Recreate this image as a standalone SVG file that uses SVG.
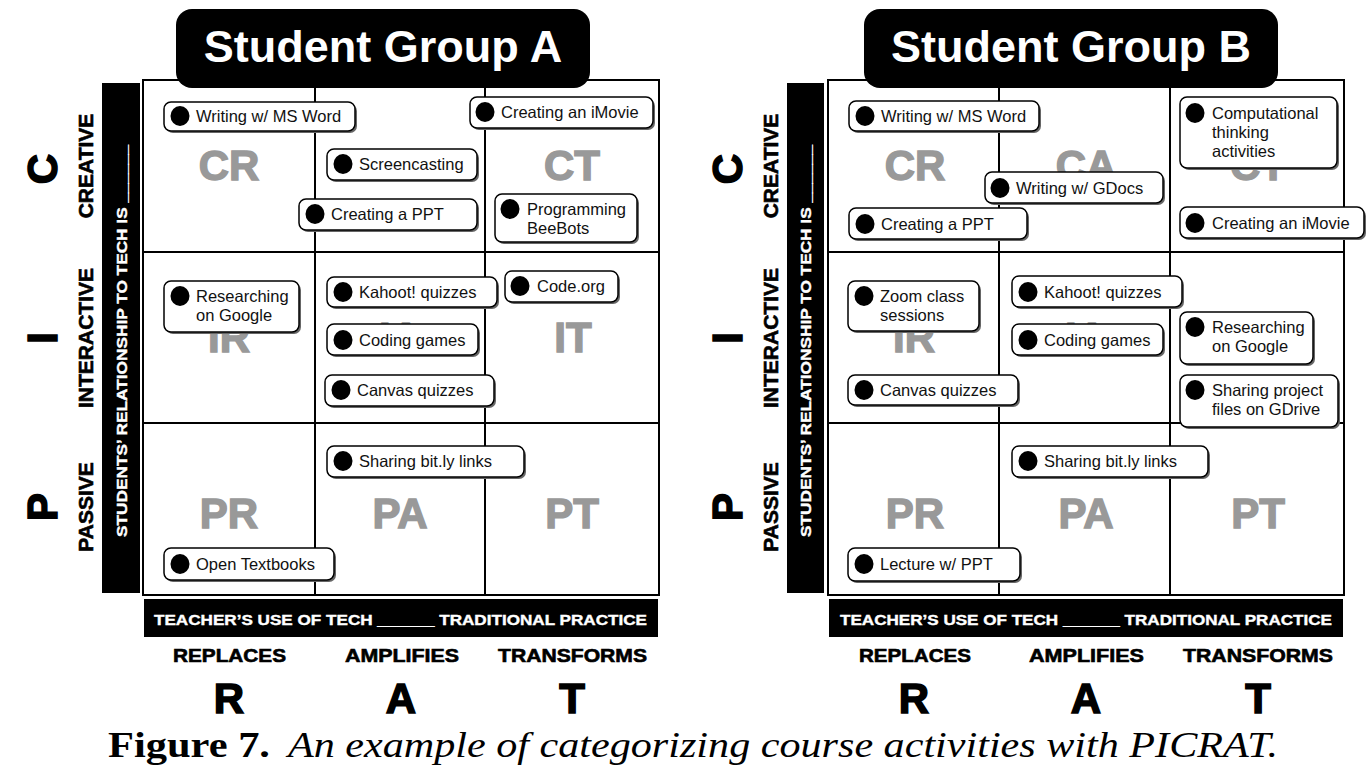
<svg xmlns="http://www.w3.org/2000/svg" width="1367" height="777" viewBox="0 0 1367 777">
<style>
.bg{fill:#fff}
.grid{fill:#fff;stroke:#000;stroke-width:2}
.gl{stroke:#000;stroke-width:2}
.blk{fill:#000}
.tt{font-family:"Liberation Sans",Arial,sans-serif;font-weight:bold;font-size:45px;fill:#fff;text-anchor:middle}
.cell{font-family:"Liberation Sans",Arial,sans-serif;font-weight:bold;font-size:42px;fill:#999;stroke:#999;stroke-width:1.4;text-anchor:middle}
.sh{fill:#666}
.box{fill:#fff;stroke:#000;stroke-width:1.5}
.dot{fill:#000}
.lbl{font-family:"Liberation Sans",Arial,sans-serif;font-size:16.5px;fill:#111}
.axis{font-family:"Liberation Sans",Arial,sans-serif;font-weight:bold;font-size:21px;fill:#000;stroke:#000;stroke-width:0.6;text-anchor:middle}
.big{font-family:"Liberation Sans",Arial,sans-serif;font-weight:bold;font-size:42px;fill:#000;stroke:#000;stroke-width:1.5;text-anchor:middle}
.col{font-family:"Liberation Sans",Arial,sans-serif;font-weight:bold;font-size:18px;fill:#000;stroke:#000;stroke-width:0.6}
.wt{font-family:"Liberation Sans",Arial,sans-serif;font-weight:bold;font-size:15.5px;fill:#fff;stroke:#fff;stroke-width:0.4}
.cap{font-family:"Liberation Serif","Times New Roman",serif;font-size:36px;fill:#000}
</style>
<rect class="bg" x="0" y="0" width="1367" height="777"/>

<!-- ===== Panel A ===== -->
<g id="panelA-frame">
  <rect class="grid" x="143" y="80" width="516" height="515"/>
  <line class="gl" x1="315" y1="80" x2="315" y2="595"/>
  <line class="gl" x1="485" y1="80" x2="485" y2="595"/>
  <line class="gl" x1="143" y1="252" x2="659" y2="252"/>
  <line class="gl" x1="143" y1="423" x2="659" y2="423"/>
  <rect class="blk" x="102" y="83" width="38" height="510"/>
  <text class="wt" transform="translate(127,537) rotate(-90)" x="0" y="0" textLength="392" lengthAdjust="spacingAndGlyphs">STUDENTS’ RELATIONSHIP TO TECH IS ______</text>
  <rect class="blk" x="144" y="599" width="514" height="38"/>
  <text class="wt" x="154" y="625" textLength="493" lengthAdjust="spacingAndGlyphs">TEACHER’S USE OF TECH ______ TRADITIONAL PRACTICE</text>
  <text class="cell" x="229" y="180">CR</text>
  <text class="cell" x="572" y="180">CT</text>
  <text class="cell" x="229" y="352">IR</text>
  <text class="cell" x="400" y="352">IA</text>
  <text class="cell" x="573" y="352">IT</text>
  <text class="cell" x="229" y="528">PR</text>
  <text class="cell" x="400" y="528">PA</text>
  <text class="cell" x="572" y="528">PT</text>
  <text class="axis" transform="translate(93,166) rotate(-90)">CREATIVE</text>
  <text class="axis" transform="translate(93,338) rotate(-90)">INTERACTIVE</text>
  <text class="axis" transform="translate(93,507) rotate(-90)">PASSIVE</text>
  <text class="big" transform="translate(57,169) rotate(-90)">C</text>
  <text class="big" transform="translate(57,338) rotate(-90)" stroke-width="3">I</text>
  <text class="big" transform="translate(57,507) rotate(-90)">P</text>
  <text class="col" x="173" y="662" textLength="113" lengthAdjust="spacingAndGlyphs">REPLACES</text>
  <text class="col" x="345" y="662" textLength="114" lengthAdjust="spacingAndGlyphs">AMPLIFIES</text>
  <text class="col" x="498" y="662" textLength="149" lengthAdjust="spacingAndGlyphs">TRANSFORMS</text>
  <text class="big" x="229" y="713">R</text>
  <text class="big" x="401" y="713">A</text>
  <text class="big" x="572" y="713">T</text>
  <rect class="blk" x="176" y="9" width="414" height="79" rx="16"/>
  <text class="tt" x="383" y="62">Student Group A</text>
</g>

<g id="A-writing-word"><rect class="sh" x="166" y="104" width="191" height="29" rx="7"/><rect class="box" x="164" y="102" width="191" height="29" rx="7"/><ellipse class="dot" cx="180" cy="116" rx="9.5" ry="10"/><text class="lbl" x="196" y="122">Writing w/ MS Word</text></g>
<g id="A-imovie"><rect class="sh" x="472" y="99" width="183" height="31" rx="7"/><rect class="box" x="470" y="97" width="183" height="31" rx="7"/><ellipse class="dot" cx="485" cy="112" rx="9.5" ry="10"/><text class="lbl" x="501" y="118">Creating an iMovie</text></g>
<g id="A-screencasting"><rect class="sh" x="329" y="151" width="150" height="31" rx="7"/><rect class="box" x="327" y="149" width="150" height="31" rx="7"/><ellipse class="dot" cx="343" cy="164" rx="9.5" ry="10"/><text class="lbl" x="359" y="170">Screencasting</text></g>
<g id="A-ppt"><rect class="sh" x="301" y="201" width="178" height="31" rx="7"/><rect class="box" x="299" y="199" width="178" height="31" rx="7"/><ellipse class="dot" cx="315" cy="214" rx="9.5" ry="10"/><text class="lbl" x="331" y="220">Creating a PPT</text></g>
<g id="A-beebots"><rect class="sh" x="497" y="196" width="142" height="48" rx="7"/><rect class="box" x="495" y="194" width="142" height="48" rx="7"/><ellipse class="dot" cx="510" cy="209" rx="9.5" ry="10"/><text class="lbl" x="527" y="215">Programming</text><text class="lbl" x="527" y="234">BeeBots</text></g>
<g id="A-researching"><rect class="sh" x="166" y="283" width="135" height="51" rx="7"/><rect class="box" x="164" y="281" width="135" height="51" rx="7"/><ellipse class="dot" cx="180" cy="296" rx="9.5" ry="10"/><text class="lbl" x="196" y="302">Researching</text><text class="lbl" x="196" y="321">on Google</text></g>
<g id="A-kahoot"><rect class="sh" x="329" y="279" width="170" height="30" rx="7"/><rect class="box" x="327" y="277" width="170" height="30" rx="7"/><ellipse class="dot" cx="343" cy="292" rx="9.5" ry="10"/><text class="lbl" x="359" y="298">Kahoot! quizzes</text></g>
<g id="A-codeorg"><rect class="sh" x="507" y="273" width="113" height="31" rx="7"/><rect class="box" x="505" y="271" width="113" height="31" rx="7"/><ellipse class="dot" cx="520" cy="286" rx="9.5" ry="10"/><text class="lbl" x="537" y="292">Code.org</text></g>
<g id="A-coding"><rect class="sh" x="329" y="326" width="151" height="31" rx="7"/><rect class="box" x="327" y="324" width="151" height="31" rx="7"/><ellipse class="dot" cx="343" cy="340" rx="9.5" ry="10"/><text class="lbl" x="359" y="346">Coding games</text></g>
<g id="A-canvas"><rect class="sh" x="327" y="377" width="169" height="31" rx="7"/><rect class="box" x="325" y="375" width="169" height="31" rx="7"/><ellipse class="dot" cx="341" cy="390" rx="9.5" ry="10"/><text class="lbl" x="357" y="396">Canvas quizzes</text></g>
<g id="A-bitly"><rect class="sh" x="329" y="448" width="197" height="31" rx="7"/><rect class="box" x="327" y="446" width="197" height="31" rx="7"/><ellipse class="dot" cx="343" cy="461" rx="9.5" ry="10"/><text class="lbl" x="359" y="467">Sharing bit.ly links</text></g>
<g id="A-textbooks"><rect class="sh" x="166" y="550" width="170" height="32" rx="7"/><rect class="box" x="164" y="548" width="170" height="32" rx="7"/><ellipse class="dot" cx="180" cy="564" rx="9.5" ry="10"/><text class="lbl" x="196" y="570">Open Textbooks</text></g>

<!-- ===== Panel B ===== -->
<g id="panelB-frame">
  <rect class="grid" x="828" y="80" width="516" height="515"/>
  <line class="gl" x1="999" y1="80" x2="999" y2="595"/>
  <line class="gl" x1="1170" y1="80" x2="1170" y2="595"/>
  <line class="gl" x1="828" y1="252" x2="1344" y2="252"/>
  <line class="gl" x1="828" y1="423" x2="1344" y2="423"/>
  <rect class="blk" x="787" y="83" width="37" height="510"/>
  <text class="wt" transform="translate(811,537) rotate(-90)" x="0" y="0" textLength="392" lengthAdjust="spacingAndGlyphs">STUDENTS’ RELATIONSHIP TO TECH IS ______</text>
  <rect class="blk" x="829" y="599" width="514" height="38"/>
  <text class="wt" x="840" y="625" textLength="492" lengthAdjust="spacingAndGlyphs">TEACHER’S USE OF TECH ______ TRADITIONAL PRACTICE</text>
  <text class="cell" x="915" y="180">CR</text>
  <text class="cell" x="1086" y="180">CA</text>
  <text class="cell" x="1258" y="180">CT</text>
  <text class="cell" x="914" y="352">IR</text>
  <text class="cell" x="1086" y="352">IA</text>
  <text class="cell" x="915" y="528">PR</text>
  <text class="cell" x="1086" y="528">PA</text>
  <text class="cell" x="1258" y="528">PT</text>
  <text class="axis" transform="translate(778,166) rotate(-90)">CREATIVE</text>
  <text class="axis" transform="translate(778,338) rotate(-90)">INTERACTIVE</text>
  <text class="axis" transform="translate(778,507) rotate(-90)">PASSIVE</text>
  <text class="big" transform="translate(742,169) rotate(-90)">C</text>
  <text class="big" transform="translate(742,338) rotate(-90)" stroke-width="3">I</text>
  <text class="big" transform="translate(742,507) rotate(-90)">P</text>
  <text class="col" x="859" y="662" textLength="112" lengthAdjust="spacingAndGlyphs">REPLACES</text>
  <text class="col" x="1029" y="662" textLength="115" lengthAdjust="spacingAndGlyphs">AMPLIFIES</text>
  <text class="col" x="1183" y="662" textLength="150" lengthAdjust="spacingAndGlyphs">TRANSFORMS</text>
  <text class="big" x="914" y="713">R</text>
  <text class="big" x="1086" y="713">A</text>
  <text class="big" x="1258" y="713">T</text>
  <rect class="blk" x="864" y="9" width="414" height="79" rx="16"/>
  <text class="tt" x="1071" y="62">Student Group B</text>
</g>

<g id="B-writing-word"><rect class="sh" x="851" y="103" width="190" height="30" rx="7"/><rect class="box" x="849" y="101" width="190" height="30" rx="7"/><ellipse class="dot" cx="865" cy="116" rx="9.5" ry="10"/><text class="lbl" x="881" y="122">Writing w/ MS Word</text></g>
<g id="B-computational"><rect class="sh" x="1182" y="99" width="157" height="71" rx="7"/><rect class="box" x="1180" y="97" width="157" height="71" rx="7"/><ellipse class="dot" cx="1195" cy="113" rx="9.5" ry="10"/><text class="lbl" x="1212" y="119">Computational</text><text class="lbl" x="1212" y="138">thinking</text><text class="lbl" x="1212" y="157">activities</text></g>
<g id="B-gdocs"><rect class="sh" x="987" y="174" width="178" height="31" rx="7"/><rect class="box" x="985" y="172" width="178" height="31" rx="7"/><ellipse class="dot" cx="1000" cy="188" rx="9.5" ry="10"/><text class="lbl" x="1016" y="194">Writing w/ GDocs</text></g>
<g id="B-ppt"><rect class="sh" x="851" y="210" width="178" height="31" rx="7"/><rect class="box" x="849" y="208" width="178" height="31" rx="7"/><ellipse class="dot" cx="865" cy="224" rx="9.5" ry="10"/><text class="lbl" x="881" y="230">Creating a PPT</text></g>
<g id="B-imovie"><rect class="sh" x="1182" y="209" width="184" height="31" rx="7"/><rect class="box" x="1180" y="207" width="184" height="31" rx="7"/><ellipse class="dot" cx="1195" cy="223" rx="9.5" ry="10"/><text class="lbl" x="1212" y="229">Creating an iMovie</text></g>
<g id="B-zoom"><rect class="sh" x="850" y="283" width="131" height="50" rx="7"/><rect class="box" x="848" y="281" width="131" height="50" rx="7"/><ellipse class="dot" cx="864" cy="296" rx="9.5" ry="10"/><text class="lbl" x="880" y="302">Zoom class</text><text class="lbl" x="880" y="321">sessions</text></g>
<g id="B-kahoot"><rect class="sh" x="1014" y="278" width="170" height="31" rx="7"/><rect class="box" x="1012" y="276" width="170" height="31" rx="7"/><ellipse class="dot" cx="1028" cy="292" rx="9.5" ry="10"/><text class="lbl" x="1044" y="298">Kahoot! quizzes</text></g>
<g id="B-coding"><rect class="sh" x="1014" y="326" width="151" height="31" rx="7"/><rect class="box" x="1012" y="324" width="151" height="31" rx="7"/><ellipse class="dot" cx="1028" cy="340" rx="9.5" ry="10"/><text class="lbl" x="1044" y="346">Coding games</text></g>
<g id="B-researching"><rect class="sh" x="1182" y="314" width="133" height="52" rx="7"/><rect class="box" x="1180" y="312" width="133" height="52" rx="7"/><ellipse class="dot" cx="1195" cy="327" rx="9.5" ry="10"/><text class="lbl" x="1212" y="333">Researching</text><text class="lbl" x="1212" y="352">on Google</text></g>
<g id="B-canvas"><rect class="sh" x="850" y="377" width="170" height="30" rx="7"/><rect class="box" x="848" y="375" width="170" height="30" rx="7"/><ellipse class="dot" cx="864" cy="390" rx="9.5" ry="10"/><text class="lbl" x="880" y="396">Canvas quizzes</text></g>
<g id="B-gdrive"><rect class="sh" x="1182" y="377" width="158" height="52" rx="7"/><rect class="box" x="1180" y="375" width="158" height="52" rx="7"/><ellipse class="dot" cx="1195" cy="390" rx="9.5" ry="10"/><text class="lbl" x="1212" y="396">Sharing project</text><text class="lbl" x="1212" y="415">files on GDrive</text></g>
<g id="B-bitly"><rect class="sh" x="1014" y="448" width="196" height="31" rx="7"/><rect class="box" x="1012" y="446" width="196" height="31" rx="7"/><ellipse class="dot" cx="1028" cy="461" rx="9.5" ry="10"/><text class="lbl" x="1044" y="467">Sharing bit.ly links</text></g>
<g id="B-lecture"><rect class="sh" x="850" y="550" width="172" height="33" rx="7"/><rect class="box" x="848" y="548" width="172" height="33" rx="7"/><ellipse class="dot" cx="864" cy="564" rx="9.5" ry="10"/><text class="lbl" x="880" y="570">Lecture w/ PPT</text></g>

<g id="caption">
  <text class="cap" x="108" y="757" font-weight="bold" textLength="162" lengthAdjust="spacingAndGlyphs">Figure 7.</text>
  <text class="cap" x="288" y="757" font-style="italic" textLength="990" lengthAdjust="spacingAndGlyphs">An example of categorizing course activities with PICRAT.</text>
</g>
</svg>
